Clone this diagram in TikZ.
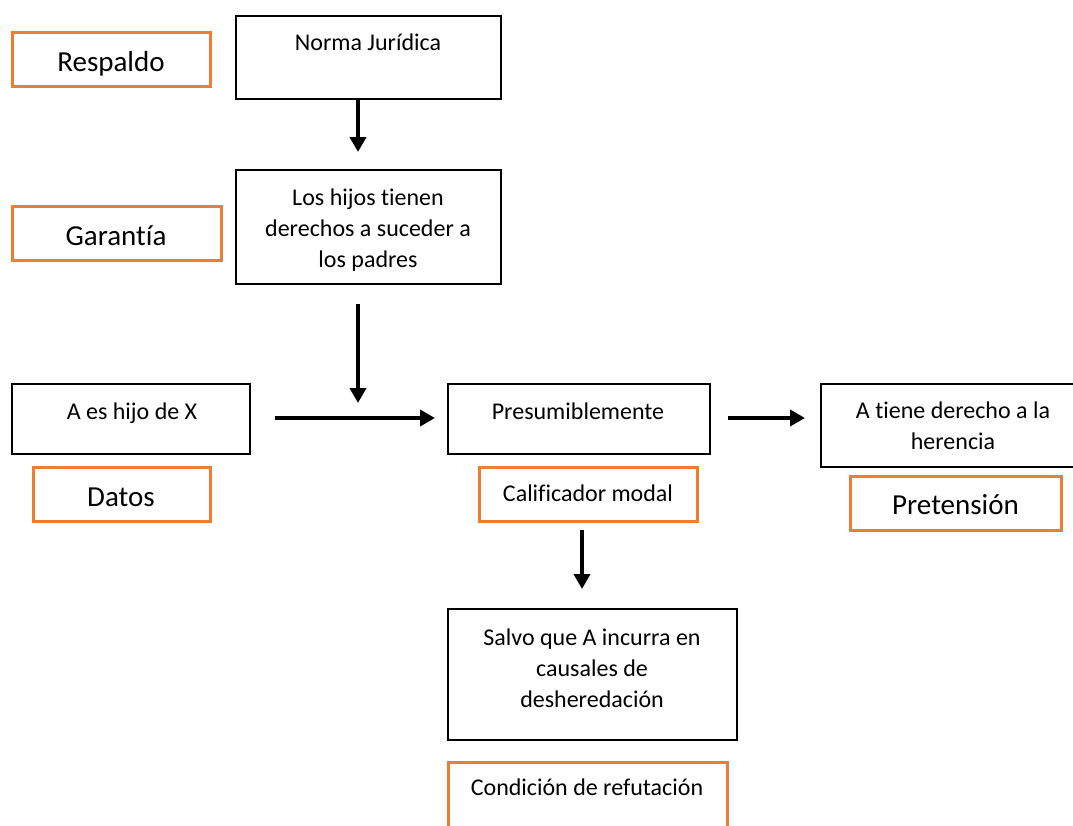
\documentclass[tikz,border=0pt]{standalone}
\usepackage{fontspec}
\setmainfont[Ligatures={NoCommon}]{Carlito}
\usetikzlibrary{arrows.meta}
\definecolor{orangeC}{HTML}{ED7D31}
\tikzset{
  blk/.style={draw=black, line width=2.8pt, rectangle, inner sep=0pt},
  org/.style={draw=orangeC, line width=3pt, rectangle, inner sep=0pt},
  txt/.style={font=\fontsize{24}{31}\selectfont, align=center, inner sep=0pt, anchor=base},
  big/.style={font=\fontsize{29}{35}\selectfont, inner sep=0pt, anchor=base},
  arr/.style={line width=4.3pt, -{Triangle[width=16pt,length=15pt]}}
}
\begin{document}
\begin{tikzpicture}[x=1pt,y=-1pt]
\useasboundingbox (0,0) rectangle (1073,825);
\clip (0,0) rectangle (1073,825);
% boxes
\node[org, minimum width=198pt, minimum height=54pt] (respaldo) at (111,59) {};
\node[blk, minimum width=265pt, minimum height=83pt] (norma) at (368.5,57.5) {};
\node[org, minimum width=209pt, minimum height=54pt] (garantia) at (116.5,233) {};
\node[blk, minimum width=265pt, minimum height=114pt] (hijos) at (368.5,227) {};
\node[blk, minimum width=238pt, minimum height=70pt] (ahijo) at (131,419) {};
\node[org, minimum width=177pt, minimum height=54pt] (datos) at (121.5,494) {};
\node[blk, minimum width=262pt, minimum height=70pt] (presum) at (579,419) {};
\node[org, minimum width=218pt, minimum height=54pt] (calif) at (588,494) {};
\node[blk, minimum width=264pt, minimum height=83pt] (atiene) at (953,425.5) {};
\node[org, minimum width=211pt, minimum height=54pt] (pret) at (955.5,503) {};
\node[blk, minimum width=289pt, minimum height=131pt] (salvo) at (592.5,674.5) {};
\node[org, minimum width=279pt, minimum height=88pt] (cond) at (587.5,806) {};
% texts (base anchor = baseline of the last line)
\node[big] (respaldoT) at (111,71) {Respaldo};
\node[txt] (normaT) at (368,50) {Norma Jurídica};
\node[big] (garantiaT) at (116,245) {Garantía};
\node[txt] (hijosT) at (368,267) {Los hijos tienen\\derechos a suceder a\\los padres};
\node[txt] (ahijoT) at (132,419) {A es hijo de X};
\node[big] (datosT) at (121,506) {Datos};
\node[txt] (presumT) at (578,419) {Presumiblemente};
\node[txt] (califT) at (588,501) {Calificador modal};
\node[txt] (atieneT) at (953,449) {A tiene derecho a la\\herencia};
\node[big] (pretT) at (955.5,514) {Pretensión};
\node[txt] (salvoT) at (592,707) {Salvo que A incurra en\\causales de\\desheredación};
\node[txt] (condT) at (587,795) {Condición de refutación};
% arrow end points
\coordinate (a1s) at (358,99);
\coordinate (a1e) at (358,152);
\coordinate (a2s) at (358,304);
\coordinate (a2e) at (358,403);
\coordinate (a3s) at (275,418);
\coordinate (a3e) at (435,418);
\coordinate (a4s) at (728,418);
\coordinate (a4e) at (805,418);
\coordinate (a5s) at (582,530);
\coordinate (a5e) at (582,589);
\draw[arr] (a1s) -- (a1e);
\draw[arr] (a2s) -- (a2e);
\draw[arr] (a3s) -- (a3e);
\draw[arr] (a4s) -- (a4e);
\draw[arr] (a5s) -- (a5e);
\end{tikzpicture}
\end{document}
